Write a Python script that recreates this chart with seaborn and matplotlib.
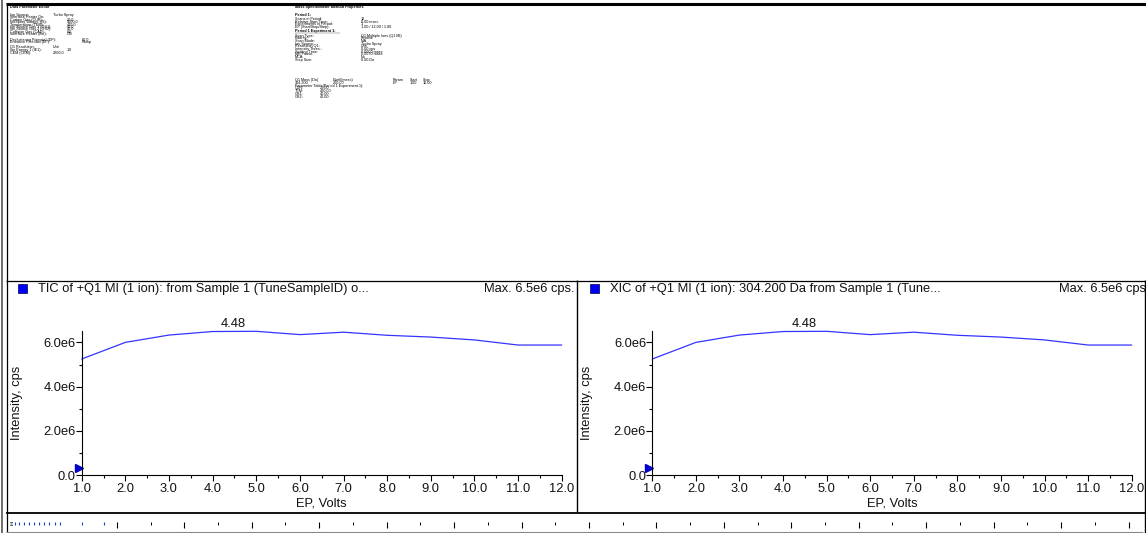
import numpy as np
import pandas as pd
import matplotlib
matplotlib.use("Agg")
import matplotlib.pyplot as plt
import matplotlib.transforms as mtransforms
from matplotlib.patches import Rectangle
from matplotlib.ticker import FixedLocator, MultipleLocator
import seaborn as sns

# ---- data -------------------------------------------------------------
ep_volts = [1.0, 2.0, 3.0, 4.0, 5.0, 6.0, 7.0, 8.0, 9.0, 10.0, 11.0, 12.0]
tic_intensity = [5.25e6, 6.00e6, 6.33e6, 6.49e6, 6.50e6, 6.35e6,
                 6.46e6, 6.32e6, 6.24e6, 6.11e6, 5.88e6, 5.88e6]
xic_intensity = [5.25e6, 6.00e6, 6.33e6, 6.49e6, 6.50e6, 6.35e6,
                 6.46e6, 6.32e6, 6.24e6, 6.11e6, 5.88e6, 5.88e6]
apex_position = 4.48
apex_label = "4.48"
max_label = "Max. 6.5e6 cps."
y_ticks = [0.0, 2.0e6, 4.0e6, 6.0e6]
y_tick_labels = ["0.0", "2.0e6", "4.0e6", "6.0e6"]
x_ticks = [1.0, 2.0, 3.0, 4.0, 5.0, 6.0, 7.0, 8.0, 9.0, 10.0, 11.0, 12.0]
x_tick_labels = ["1.0", "2.0", "3.0", "4.0", "5.0", "6.0", "7.0", "8.0",
                 "9.0", "10.0", "11.0", "12.0"]
tic_title = "TIC of +Q1 MI (1 ion): from Sample 1 (TuneSampleID) o..."
xic_title = "XIC of +Q1 MI (1 ion): 304.200 Da from Sample 1 (Tune..."
x_label = "EP, Volts"
y_label = "Intensity, cps"

# parameter listings in the report header
source_title = "Data Parameter Editor"
source_rows = [
    ("Ion Source:", "Turbo Spray", 53),
    ("Interface Heater On:", "", 53),
    ("Curtain Gas (CUR):", "20.0", 67),
    ("IonSpray Voltage (IS):", "5500.0", 67),
    ("Temperature (TEM):", "400.0", 67),
    ("Ion Source Gas 1 (GS1):", "40.0", 67),
    ("Ion Source Gas 2 (GS2):", "40.0", 67),
    ("Collision Gas (CAD):", "6.0", 67),
    ("Interface Heater (ihe):", "ON", 67),
]
compound_rows = [
    ("Declustering Potential (DP):", "60.0", 82),
    ("Entrance Potential (EP):", "Ramp", 82),
]
resolution_rows = [
    ("Q1 Resolution:", "Unit", 53),
    ("Ion Energy 1 (IE1):", "1.0", 67),
    ("CEM (CEM):", "2200.0", 53),
]
method_title = "Mass Spectrometer Method Properties"
period_rows = [
    ("Scans in Period:", "12"),
    ("Relative Start Time:", "0.00 msec"),
    ("Experiments in Period:", "1"),
    ("EP (Start/Stop/Step):", "1.00 / 12.00 / 1.00"),
]
experiment_rows = [
    ("Scan Type:", "Q1 Multiple Ions (Q1 MI)"),
    ("Polarity:", "Positive"),
    ("Scan Mode:", "N/A"),
    ("Ion Source:", "Turbo Spray"),
    ("Resolution Q1:", "Unit"),
    ("Intensity Thres.:", "0.00 cps"),
    ("Settling Time:", "0.0000 msec"),
    ("MR Pause:", "5.0070 msec"),
    ("MCA:", "No"),
    ("Step Size:", "0.00 Da"),
]
mass_header = ["Q1 Mass (Da)", "Dwell(msec)", "Param", "Start", "Stop"]
mass_row = ["304.200", "200.00", "EP", "1.00", "12.00"]
param_table_title = "Parameter Table(Period 1 Experiment 1):"
param_rows = [("CUR:", "20.00"), ("TEM:", "400.00"), ("GS1:", "40.00"), ("GS2:", "40.00")]

# ---- figure -----------------------------------------------------------
W, H = 1146, 533
sns.set_theme(style="white")
plt.rcParams["font.family"] = ["Liberation Sans", "DejaVu Sans"]
plt.rcParams["axes.linewidth"] = 0.8

fig = plt.figure(figsize=(W / 100, H / 100), dpi=100)
fig.patch.set_facecolor("white")

# overlay in pixel units (y downwards) for frames and report text
bg = fig.add_axes([0, 0, 1, 1], zorder=0)
bg.set_xlim(0, W)
bg.set_ylim(H, 0)
bg.axis("off")

def hline(y, x0, x1, lw=0.8, color="black"):
    bg.plot([x0, x1], [y, y], color=color, lw=lw, solid_capstyle="butt")

def vline(x, y0, y1, lw=0.8, color="black"):
    bg.plot([x, x], [y0, y1], color=color, lw=lw, solid_capstyle="butt")

# window frames
vline(2.0, 0, H, lw=1.2, color="#555555")
vline(6.5, 3, H, lw=0.9)
hline(3.5, 6, W, lw=2.2)
hline(280.5, 6, W, lw=0.9)
vline(576.5, 280, 512, lw=1.0)
vline(1144.5, 280, H, lw=1.0)
hline(512.5, 6, W, lw=1.3)
hline(531.5, 6, 1143, lw=0.8, color="#888888")

# ruler strip along the bottom
ruler_major = 116.8 + 67.45 * np.arange(16)
for x in ruler_major:
    vline(x, 521.5, 528.0, lw=0.8)
for x in ruler_major[:-1] + 67.45 / 2:
    vline(x, 521.5, 525.0, lw=0.7)
bg.text(10, 524.5, "\u2261", fontsize=4, color="black", ha="left", va="center")
for x in [15, 19, 24, 29, 34, 39, 44, 49, 55, 60, 82, 104]:
    vline(x, 521.5, 524.5, lw=0.8, color="#1f3fd0")

# report header text
txt_kw = dict(fontsize=2.7, color="black", ha="left", va="center")

def put(x, y, s, bold=False):
    bg.text(x, y, s, fontweight="bold" if bold else "normal", **txt_kw)

put(10, 7.3, source_title, bold=True)
y = 15.0
for lab, val, vx in source_rows:
    put(10, y, lab)
    put(vx, y, val)
    y += 2.4
y += 3.0
for lab, val, vx in compound_rows:
    put(10, y, lab)
    put(vx, y, val)
    y += 2.4
y += 3.0
for lab, val, vx in resolution_rows:
    put(10, y, lab)
    put(vx, y, val)
    y += 2.6

put(295, 7.3, method_title, bold=True)
put(295, 15.0, "Period 1:", bold=True)
y = 19.0
for lab, val in period_rows:
    put(295, y, lab)
    put(361, y, val)
    y += 2.6
put(295, 31.0, "Period 1 Experiment 1:", bold=True)
hline(33.0, 295, 340, lw=0.3, color="#555555")
y = 35.5
for lab, val in experiment_rows:
    put(295, y, lab)
    put(361, y, val)
    y += 2.7
hdr_x = [295, 333, 393, 410, 423]
for hx, s in zip(hdr_x, mass_header):
    put(hx, 80.0, s)
for hx, s in zip(hdr_x, mass_row):
    put(hx, 82.8, s)
put(295, 85.6, param_table_title)
y = 88.4
for lab, val in param_rows:
    put(295, y, lab)
    put(320, y, val)
    y += 2.7

# ---- chart panels -----------------------------------------------------
line_color = "#3434ff"
font_size = 9.3
panels = [
    dict(x0=81.7, x1=561.7, values=tic_intensity, title=tic_title,
         sq=18.0, title_x=38.5, max_x=574.5, max_text=max_label, ylab_x=16.7),
    dict(x0=652.3, x1=1131.7, values=xic_intensity, title=xic_title,
         sq=589.5, title_x=609.5, max_x=1146.0, max_text=max_label[:-1],
         ylab_x=586.7),
]
ax_bottom, ax_top = 475.3, 331.3

for p in panels:
    ax = fig.add_axes([p["x0"] / W, (H - ax_bottom) / H,
                       (p["x1"] - p["x0"]) / W, (ax_bottom - ax_top) / H],
                      zorder=2)
    ax.patch.set_alpha(0)
    df = pd.DataFrame({"EP": ep_volts, "Intensity": p["values"]})
    sns.lineplot(data=df, x="EP", y="Intensity", ax=ax, color=line_color,
                 linewidth=0.9, estimator=None, clip_on=False)
    ax.set_xlim(1.0, 12.0)
    ax.set_ylim(0, 6.5e6)
    for side in ("top", "right"):
        ax.spines[side].set_visible(False)
    for side in ("left", "bottom"):
        ax.spines[side].set_color("black")
        ax.spines[side].set_linewidth(0.8)
    ax.xaxis.set_major_locator(FixedLocator(x_ticks))
    ax.set_xticklabels(x_tick_labels)
    ax.xaxis.set_minor_locator(MultipleLocator(0.5))
    ax.yaxis.set_major_locator(FixedLocator(y_ticks))
    ax.set_yticklabels(y_tick_labels)
    ax.yaxis.set_minor_locator(MultipleLocator(1.0e6))
    ax.tick_params(which="major", direction="out", length=4, width=0.8,
                   color="black", labelsize=font_size, labelcolor="#111111",
                   bottom=True, left=True)
    ax.tick_params(axis="x", which="major", pad=1.5)
    ax.tick_params(axis="y", which="major", pad=0.5)
    ax.tick_params(which="minor", direction="out", length=2.5, width=0.8,
                   color="black", bottom=True, left=True)
    ax.grid(False)

    ax.set_xlabel(x_label, fontsize=font_size, color="#111111")
    ax.set_ylabel(y_label, fontsize=font_size, color="#111111")
    ax.xaxis.label.set_va("center")
    ax.yaxis.label.set_va("center")
    ax.xaxis.set_label_coords(0.5, -(503.0 - ax_bottom) / (ax_bottom - ax_top))
    ax.yaxis.set_label_coords(-(p["x0"] - p["ylab_x"]) / (p["x1"] - p["x0"]), 0.5)

    # apex annotation
    ax.annotate(apex_label, xy=(apex_position, max(p["values"])),
                xytext=(0, 1.0), textcoords="offset points",
                ha="center", va="bottom", fontsize=font_size, color="#111111",
                annotation_clip=False)

    # start-of-scan marker on the intensity axis
    trans = mtransforms.blended_transform_factory(ax.transAxes, ax.transData)
    ax.plot([-0.006], [0.33e6], marker=">", markersize=6, color="#0000cc",
            transform=trans, clip_on=False, linestyle="none")

    # panel header: trace swatch, title and maximum intensity
    bg.add_patch(Rectangle((p["sq"], 284.0), 9, 9, facecolor="#0000ff",
                           edgecolor="#000044", lw=0.5))
    bg.text(p["title_x"], 289.0, p["title"], fontsize=font_size, color="#111111",
            ha="left", va="center")
    bg.text(p["max_x"], 289.0, p["max_text"], fontsize=font_size, color="#111111",
            ha="right", va="center")

fig.savefig("out.png", dpi=100, facecolor="white")
